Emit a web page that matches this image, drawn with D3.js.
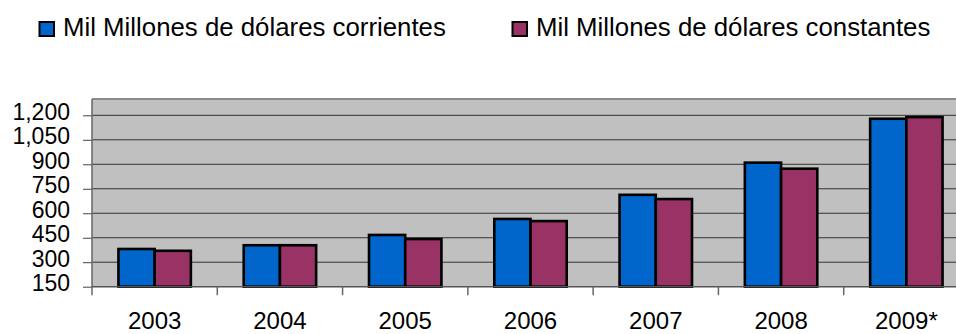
<!DOCTYPE html>
<html>
<head>
<meta charset="utf-8">
<script src="https://cdn.jsdelivr.net/npm/d3@7"></script>
<style>
  html, body { margin: 0; padding: 0; background: #ffffff; }
  svg { display: block; font-family: "Liberation Sans", Arial, sans-serif; }
</style>
</head>
<body>
<svg id="chart" width="956" height="334"></svg>
<script>
// Gasto por año, en mil millones de dólares
const years = ["2003", "2004", "2005", "2006", "2007", "2008", "2009*"];
const corrientes = [381, 404, 467, 565, 713, 910, 1179];
const constantes = [370, 404, 442, 552, 687, 873, 1189];
const seriesNames = ["Mil Millones de dólares corrientes", "Mil Millones de dólares constantes"];
const seriesColors = ["#0066CC", "#993366"];
const yTicks = [150, 300, 450, 600, 750, 900, 1050, 1200];

const rows = years.map((y, i) => ({ year: y, values: [corrientes[i], constantes[i]] }));

const svg = d3.select("#chart");

const plot = { left: 92, right: 969, top: 99, bottom: 286.7 };

const x = d3.scaleBand().domain(years).range([plot.left, plot.right]).padding(0);
const xInner = d3.scaleBand().domain([0, 1]).range([0, x.bandwidth()])
  .paddingInner(0).paddingOuter(0.73);
const y = d3.scaleLinear().domain([150, 1300]).range([plot.bottom, plot.top]);

// Plot area background
svg.append("rect")
  .attr("x", plot.left).attr("y", plot.top)
  .attr("width", plot.right - plot.left).attr("height", plot.bottom - plot.top)
  .attr("fill", "#C0C0C0");

// Top border of the plot area
svg.append("line")
  .attr("x1", plot.left).attr("x2", plot.right)
  .attr("y1", plot.top).attr("y2", plot.top)
  .attr("stroke", "#8a8a8a").attr("stroke-width", 2);

// Horizontal gridlines
svg.append("g").selectAll("line")
  .data(yTicks.filter(v => v !== 150))
  .join("line")
  .attr("x1", plot.left).attr("x2", plot.right)
  .attr("y1", d => y(d)).attr("y2", d => y(d))
  .attr("stroke", "#333333").attr("stroke-width", 1);

// Bars
const groups = svg.append("g").selectAll("g")
  .data(rows)
  .join("g")
  .attr("transform", d => `translate(${x(d.year)},0)`);

groups.selectAll("rect")
  .data(d => d.values.map((v, k) => ({ k, v })))
  .join("rect")
  .attr("x", d => xInner(d.k))
  .attr("width", xInner.bandwidth())
  .attr("y", d => y(d.v))
  .attr("height", d => y(150) - y(d.v))
  .attr("fill", d => seriesColors[d.k])
  .attr("stroke", "#000000")
  .attr("stroke-width", 2.6);

// Y axis
const yAxis = d3.axisLeft(y).tickValues(yTicks).tickFormat(d3.format(",")).tickSize(9).tickPadding(13);
const gy = svg.append("g").attr("transform", `translate(${plot.left},0)`).call(yAxis);
gy.select(".domain").remove();
gy.selectAll(".tick line").attr("stroke", "#444444");
gy.selectAll(".tick text")
  .attr("fill", "#000").attr("font-size", 23).attr("dy", "0.17em")
  .attr("font-family", "'Liberation Sans', Arial, sans-serif");
svg.append("line")
  .attr("x1", plot.left).attr("x2", plot.left)
  .attr("y1", plot.top).attr("y2", plot.bottom + 8.5)
  .attr("stroke", "#666666").attr("stroke-width", 1.5);

// X axis
const xAxis = d3.axisBottom(x).tickSize(0).tickPadding(25.5);
const gx = svg.append("g").attr("transform", `translate(0,${plot.bottom})`).call(xAxis);
gx.select(".domain").remove();
gx.selectAll(".tick text")
  .attr("fill", "#000").attr("font-size", 24)
  .attr("font-family", "'Liberation Sans', Arial, sans-serif");
svg.append("line")
  .attr("x1", plot.left).attr("x2", plot.right)
  .attr("y1", plot.bottom).attr("y2", plot.bottom)
  .attr("stroke", "#555555").attr("stroke-width", 1.5);
svg.append("g").selectAll("line")
  .data(years.slice(1))
  .join("line")
  .attr("x1", d => x(d)).attr("x2", d => x(d))
  .attr("y1", plot.bottom).attr("y2", plot.bottom + 8.5)
  .attr("stroke", "#666666").attr("stroke-width", 1.5);

// Legend
const legendX = [39.5, 512.5];
const legend = svg.append("g").selectAll("g")
  .data(seriesNames)
  .join("g")
  .attr("transform", (d, i) => `translate(${legendX[i]},22)`);
legend.append("rect")
  .attr("width", 14.5).attr("height", 14)
  .attr("fill", (d, i) => seriesColors[i])
  .attr("stroke", "#000").attr("stroke-width", 2);
legend.append("text")
  .attr("x", 23.5).attr("y", 13.5)
  .attr("font-size", 25.8).attr("fill", "#000")
  .text(d => d);
</script>
</body>
</html>
